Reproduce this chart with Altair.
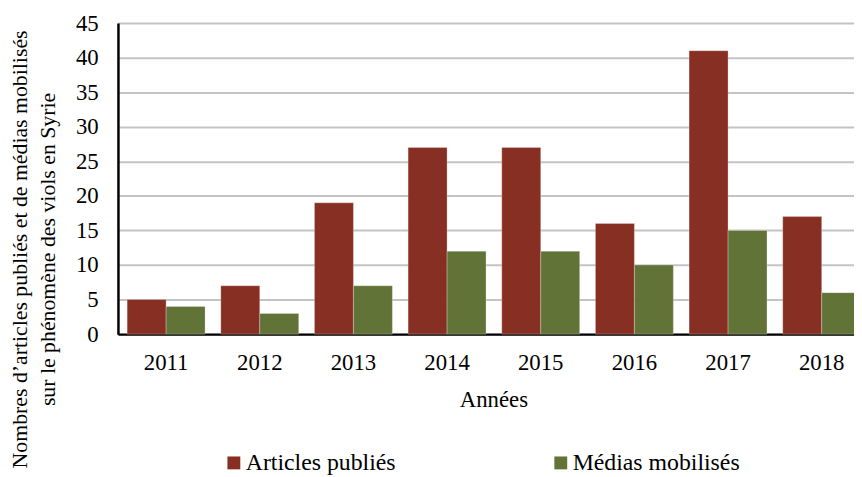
import altair as alt
import pandas as pd

years = ["2011", "2012", "2013", "2014", "2015", "2016", "2017", "2018"]
articles = [5, 7, 19, 27, 27, 16, 41, 17]
medias = [4, 3, 7, 12, 12, 10, 15, 6]
series = ["Articles publiés", "Médias mobilisés"]
colors = ["#882F23", "#627337"]

rows = []
for i, y in enumerate(years):
    rows.append({"year": y, "series": series[0], "value": articles[i]})
    rows.append({"year": y, "series": series[1], "value": medias[i]})
df = pd.DataFrame(rows)

FONT = "Liberation Serif"

chart = alt.Chart(df).mark_bar(stroke="#ffffff", strokeOpacity=0.45, strokeWidth=0.6).encode(
    x=alt.X("year:N", sort=years,
            scale=alt.Scale(range=[0, 759], paddingInner=0.168, paddingOuter=0.098),
            axis=alt.Axis(title="Années", labelAngle=0, ticks=False, labelPadding=18,
                          titlePadding=14, titleX=379, domainColor="#000000", domainWidth=2.5,
                          labelFontSize=23, titleFontSize=23)),
    xOffset=alt.XOffset("series:N", sort=series, scale=alt.Scale(paddingInner=0, paddingOuter=0)),
    y=alt.Y("value:Q", scale=alt.Scale(domain=[0, 45]),
            axis=alt.Axis(values=list(range(0, 50, 5)), tickCount=10,
                          title=["Nombres d’articles publiés et de médias mobilisés",
                                 "sur le phénomène des viols en Syrie"],
                          titleAngle=-90, titleX=-92, titleY=228, titleBaseline="alphabetic",
                          titleAlign="center", titleLineHeight=28, titleFontSize=22,
                          titleLimit=600, labelFontSize=23,
                          ticks=False, labelPadding=20, domainColor="#000000", domainWidth=2.5,
                          grid=True, gridColor="#c4c4c4", gridWidth=2)),
    color=alt.Color("series:N", sort=series,
                    scale=alt.Scale(domain=series, range=colors),
                    legend=alt.Legend(title=None, orient="none", direction="horizontal",
                                      legendX=105, legendY=432, symbolType="square",
                                      symbolSize=169, symbolStrokeWidth=0, labelFontSize=24,
                                      labelFont=FONT, labelColor="#000000", columnPadding=154,
                                      labelLimit=400, symbolOffset=0, labelOffset=0)),
).properties(
    width=743, height=314,
    autosize=alt.AutoSizeParams(type="none"),
    padding={"left": 111, "top": 13, "right": 0, "bottom": 142},
).configure_view(stroke=None).configure_axis(
    labelFont=FONT, titleFont=FONT,
    labelColor="#000000", titleColor="#000000", titleFontWeight="normal",
)

chart.save("out.html", embed_options={"renderer": "svg", "actions": False})
